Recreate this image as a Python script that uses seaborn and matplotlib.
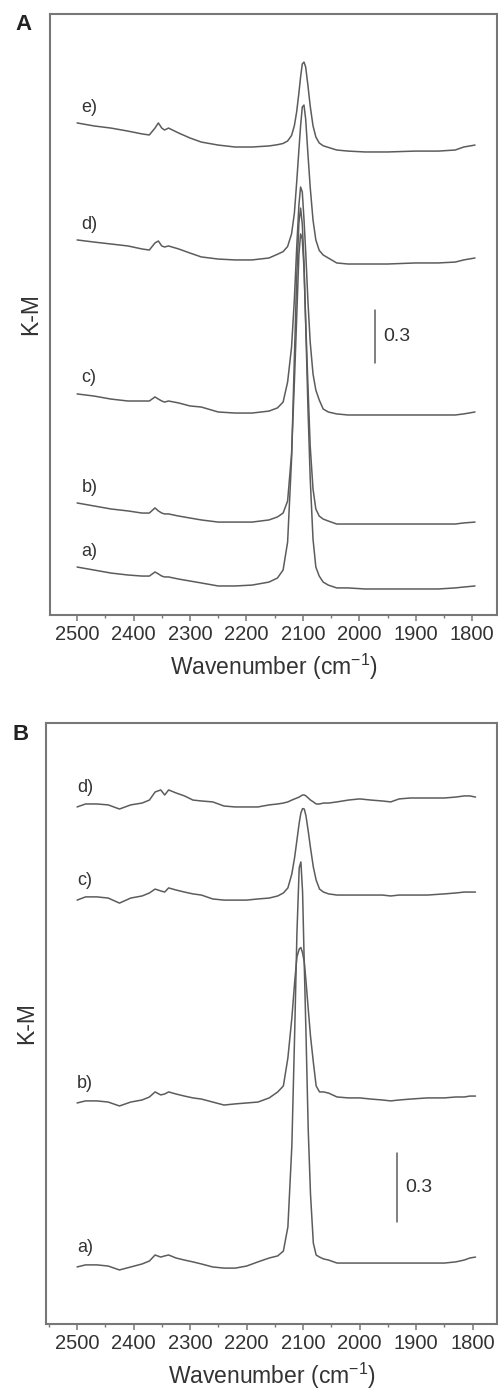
import numpy as np
import pandas as pd
import matplotlib
matplotlib.use("Agg")
import matplotlib.pyplot as plt
from matplotlib.ticker import MultipleLocator
import seaborn as sns

# ---------------- panel A : CO adsorption spectra (K-M, offset) ----------------
wn_a = [2500, 2470, 2440, 2410, 2385, 2372, 2362, 2356, 2350, 2345,
        2338, 2320, 2300, 2280, 2250, 2220, 2190, 2160, 2145, 2135,
        2127, 2120, 2115, 2111, 2107, 2104, 2101, 2098, 2095, 2091,
        2087, 2082, 2077, 2071, 2064, 2055, 2040, 2020, 1990, 1950,
        1900, 1860, 1830, 1815, 1795]

a_e = [2.780, 2.763, 2.751, 2.734, 2.718, 2.712, 2.751, 2.780, 2.751, 2.740,
       2.751, 2.723, 2.695, 2.672, 2.655, 2.644, 2.644, 2.650, 2.657, 2.664,
       2.678, 2.709, 2.765, 2.842, 2.949, 3.040, 3.113, 3.124, 3.096, 2.992,
       2.876, 2.764, 2.701, 2.667, 2.651, 2.642, 2.627, 2.621, 2.616, 2.616,
       2.621, 2.621, 2.627, 2.644, 2.655]
a_d = [2.119, 2.107, 2.096, 2.085, 2.068, 2.062, 2.102, 2.113, 2.085, 2.079,
       2.085, 2.068, 2.045, 2.023, 2.011, 2.006, 2.006, 2.017, 2.038, 2.053,
       2.082, 2.153, 2.271, 2.441, 2.627, 2.763, 2.870, 2.881, 2.802, 2.605,
       2.418, 2.232, 2.119, 2.060, 2.034, 2.017, 1.989, 1.983, 1.983, 1.983,
       1.989, 1.989, 1.994, 2.006, 2.017]
a_c = [1.249, 1.237, 1.220, 1.209, 1.209, 1.209, 1.232, 1.220, 1.209, 1.203,
       1.209, 1.198, 1.181, 1.175, 1.147, 1.141, 1.141, 1.152, 1.170, 1.203,
       1.316, 1.514, 1.785, 2.068, 2.316, 2.418, 2.390, 2.237, 2.056, 1.774,
       1.542, 1.362, 1.271, 1.215, 1.164, 1.147, 1.136, 1.130, 1.130, 1.130,
       1.130, 1.130, 1.130, 1.136, 1.147]
a_b = [0.633, 0.616, 0.599, 0.588, 0.576, 0.576, 0.605, 0.588, 0.576, 0.571,
       0.571, 0.559, 0.548, 0.537, 0.525, 0.525, 0.525, 0.537, 0.554, 0.576,
       0.644, 0.910, 1.316, 1.672, 2.034, 2.153, 2.124, 1.960, 1.661, 1.299,
       0.955, 0.712, 0.599, 0.559, 0.542, 0.531, 0.514, 0.514, 0.514, 0.514,
       0.514, 0.514, 0.514, 0.520, 0.525]
a_a = [0.271, 0.254, 0.237, 0.226, 0.220, 0.220, 0.243, 0.232, 0.220, 0.215,
       0.215, 0.203, 0.192, 0.181, 0.164, 0.164, 0.169, 0.186, 0.209, 0.254,
       0.412, 0.881, 1.452, 1.898, 2.215, 2.299, 2.209, 1.994, 1.650, 1.175,
       0.774, 0.429, 0.271, 0.220, 0.186, 0.169, 0.153, 0.153, 0.147, 0.147,
       0.147, 0.147, 0.153, 0.158, 0.164]
labels_a = ["e)", "d)", "c)", "b)", "a)"]

# ---------------- panel B ----------------
wn_b = [2500, 2485, 2465, 2445, 2425, 2405, 2385, 2372, 2362, 2352,
        2345, 2338, 2325, 2310, 2295, 2280, 2260, 2240, 2220, 2200,
        2180, 2160, 2145, 2135, 2127, 2120, 2115, 2111, 2107, 2104,
        2101, 2098, 2095, 2091, 2087, 2082, 2077, 2071, 2064, 2055,
        2040, 2020, 2000, 1980, 1960, 1945, 1930, 1910, 1880, 1850,
        1830, 1815, 1805, 1795]

b_d = [2.248, 2.261, 2.261, 2.257, 2.239, 2.257, 2.265, 2.278, 2.313, 2.322,
       2.300, 2.322, 2.309, 2.296, 2.278, 2.274, 2.270, 2.252, 2.248, 2.248,
       2.248, 2.257, 2.261, 2.265, 2.270, 2.278, 2.283, 2.287, 2.291, 2.296,
       2.300, 2.300, 2.296, 2.287, 2.278, 2.270, 2.261, 2.261, 2.265, 2.265,
       2.270, 2.278, 2.283, 2.278, 2.274, 2.270, 2.283, 2.287, 2.287, 2.287,
       2.291, 2.296, 2.296, 2.291]
b_c = [1.843, 1.857, 1.857, 1.852, 1.830, 1.852, 1.861, 1.874, 1.891, 1.883,
       1.878, 1.896, 1.887, 1.878, 1.870, 1.865, 1.848, 1.843, 1.843, 1.843,
       1.848, 1.852, 1.861, 1.874, 1.896, 1.957, 2.030, 2.104, 2.178, 2.222,
       2.241, 2.239, 2.209, 2.143, 2.070, 1.987, 1.930, 1.891, 1.878, 1.870,
       1.865, 1.865, 1.865, 1.865, 1.865, 1.861, 1.865, 1.865, 1.865, 1.870,
       1.874, 1.878, 1.878, 1.878]
b_b = [0.961, 0.970, 0.970, 0.965, 0.948, 0.965, 0.974, 0.987, 1.009, 0.996,
       1.000, 1.009, 1.000, 0.991, 0.983, 0.978, 0.965, 0.952, 0.957, 0.961,
       0.965, 0.983, 1.009, 1.035, 1.157, 1.330, 1.487, 1.596, 1.630, 1.637,
       1.613, 1.574, 1.491, 1.370, 1.252, 1.139, 1.035, 1.009, 1.009, 1.004,
       0.987, 0.983, 0.983, 0.978, 0.974, 0.970, 0.974, 0.978, 0.983, 0.983,
       0.987, 0.987, 0.991, 0.991]
b_a = [0.248, 0.257, 0.257, 0.252, 0.235, 0.248, 0.261, 0.274, 0.300, 0.291,
       0.296, 0.300, 0.287, 0.278, 0.270, 0.261, 0.248, 0.243, 0.243, 0.252,
       0.270, 0.287, 0.296, 0.317, 0.422, 0.774, 1.265, 1.700, 1.983, 2.009,
       1.878, 1.561, 1.265, 0.843, 0.565, 0.352, 0.300, 0.291, 0.283, 0.278,
       0.265, 0.265, 0.265, 0.265, 0.265, 0.265, 0.265, 0.265, 0.265, 0.265,
       0.270, 0.278, 0.287, 0.291]
labels_b = ["d)", "c)", "b)", "a)"]

xticks = [2500, 2400, 2300, 2200, 2100, 2000, 1900, 1800]
scale_len = 0.3

sns.set_theme(style="ticks")
plt.rcParams["font.family"] = ["Liberation Sans", "DejaVu Sans"]
plt.rcParams["mathtext.fontset"] = "custom"
plt.rcParams["mathtext.rm"] = "Liberation Sans"
plt.rcParams["mathtext.it"] = "Liberation Sans"

LINE = "#5c5c5c"
SPINE = "#777777"
TEXT = "#333333"

fig = plt.figure(figsize=(4.98, 13.97), dpi=100)
fig.patch.set_facecolor("white")

H = 1397.0
W = 498.0


def panel(rect, wn, series, labels, xlim, ylim, lab_dx, lab_dy, bar_x, bar_y0, bar_lab_x):
    ax = fig.add_axes(rect)
    for vals in series:
        df = pd.DataFrame({"wn": wn, "km": vals})
        sns.lineplot(data=df, x="wn", y="km", ax=ax, color=LINE, linewidth=1.1,
                     sort=False, estimator=None, legend=False)
    for vals, lab in zip(series, labels):
        ax.text(wn[0] + lab_dx, vals[0] + lab_dy, lab, fontsize=13, color=TEXT,
                ha="left", va="center")
    # scale bar
    ax.plot([bar_x, bar_x], [bar_y0, bar_y0 + scale_len], color=LINE, lw=1.1)
    ax.text(bar_lab_x, bar_y0 + scale_len / 2, "0.3", fontsize=14, color=TEXT,
            ha="left", va="center")
    ax.set_xlim(*xlim)
    ax.set_ylim(*ylim)
    ax.set_xticks(xticks)
    ax.xaxis.set_minor_locator(MultipleLocator(50))
    ax.set_yticks([])
    ax.tick_params(axis="x", which="major", direction="out", length=4, width=1.1,
                   color=SPINE, labelsize=14.5, labelcolor=TEXT, pad=3)
    ax.tick_params(axis="x", which="minor", direction="out", length=2.5, width=1.0,
                   color=SPINE)
    for s in ax.spines.values():
        s.set_visible(True)
        s.set_color(SPINE)
        s.set_linewidth(1.5)
    ax.set_xlabel("Wavenumber (cm$^{\\mathregular{-1}}$)", fontsize=16.5, color=TEXT,
                  labelpad=6)
    ax.set_ylabel("K-M", fontsize=16.5, color=TEXT, labelpad=6)
    ax.set_facecolor("white")
    return ax


ax_a = panel([50 / W, (H - 615) / H, 447 / W, 601 / H], wn_a,
             [a_e, a_d, a_c, a_b, a_a], labels_a,
             (2548, 1756), (0, 601 / 177.0), -8, 0.09,
             1973, 1.424, 1958)
ax_b = panel([46 / W, (H - 1324) / H, 451 / W, 601 / H], wn_b,
             [b_d, b_c, b_b, b_a], labels_b,
             (2555, 1757), (0, 601 / 230.0), 0, 0.085,
             1934, 0.443, 1920)

fig.text(15 / W, 1 - 24 / H, "A", fontsize=16, fontweight="bold", color="#222222",
         ha="left", va="center")
fig.text(12 / W, 1 - 734 / H, "B", fontsize=16, fontweight="bold", color="#222222",
         ha="left", va="center")

fig.savefig("out.png", dpi=100, facecolor="white")
